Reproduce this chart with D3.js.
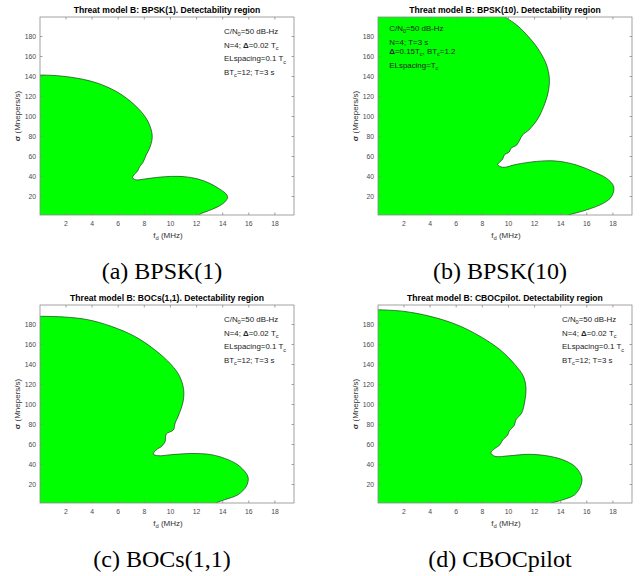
<html lang="en">
<head>
<meta charset="UTF-8">
<title>Detectability regions</title>
<style>
  body { margin: 0; background: #fff; }
  .box { fill: none; stroke: #8a8a8a; stroke-width: 0.8px; }
  .tick line { stroke: #8a8a8a; stroke-width: 0.8px; }
  .tick text { fill: #4a4a4a; font: 6.8px "Liberation Sans", Arial, sans-serif; }
  .region { fill: #00ff00; stroke: none; }
  .edge { fill: none; stroke: #1e3a1e; stroke-width: 0.7px; }
  .title { font: bold 8.6px "Liberation Sans", Arial, sans-serif; text-anchor: middle; }
  .lbl { font: 8px "Liberation Sans", Arial, sans-serif; fill: #333; }
  .note { font: 7.9px "Liberation Sans", Arial, sans-serif; fill: #222; }
  .caption { font: 24px "Liberation Serif", "Times New Roman", serif; text-anchor: middle; }
</style>
</head>
<body>
<script src="https://cdnjs.cloudflare.com/ajax/libs/d3/7.8.5/d3.min.js"></script>
<script>

var xDomain = [0.05, 19.5],
    yDomain = [1, 199];

var xTicks = [2, 4, 6, 8, 10, 12, 14, 16, 18],
    yTicks = [20, 40, 60, 80, 100, 120, 140, 160, 180];

var titles = [
  "Threat model B: BPSK(1). Detectability region",
  "Threat model B: BPSK(10). Detectability region",
  "Threat model B: BOCs(1,1). Detectability region",
  "Threat model B: CBOCpilot. Detectability region"
];

var captions = ["(a) BPSK(1)", "(b) BPSK(10)", "(c) BOCs(1,1)", "(d) CBOCpilot"];

// boundary of the detectable region, [fd (MHz), sigma (Mnepers/s)]
var bpsk1 = [[0.05,141],[1.4,140.3],[2.94,137.7],[4.48,132.7],[6.0,123.7],[7.3,111],[8.18,97.7],
  [8.57,86],[8.64,77.7],[8.44,67.7],[8.18,61],[7.93,53.5],[7.68,49.3],[7.5,44.5],[7.3,42],[7.14,38.5],
  [7.38,36.2],[8.06,37],[9.08,38.7],[10.1,39.6],[11.13,39.3],[12.15,37],[13.04,32.7],[13.8,27],
  [14.3,22],[14.42,18.7],[14.2,14],[13.68,9.3],[12.9,5],[12.4,2.5],[12.2,1]];

var bpsk10 = [[9.77,199],[10.67,191],[11.68,177.7],[12.45,164.3],[12.96,151],[13.17,137.7],[13.09,124.3],
  [12.83,112.7],[12.45,101],[12.14,94.3],[11.94,91],[11.6,86],[11.12,81],[10.9,76],[10.67,71],[10.23,67.7],
  [10.1,64],[9.72,61],[9.6,57],[9.34,53.5],[9.21,51.5],[9.6,48.7],[10.67,51.7],[12.2,54.6],[13.67,55],
  [15.25,51],[16.53,44.3],[17.55,37.7],[18.1,29.3],[17.93,19.3],[17.3,12.7],[16.0,6],[14.6,1]];

var bocs11 = [[0.05,187.7],[1.92,187],[3.71,184.3],[5.5,177.7],[7.29,167.7],[8.83,154.3],[10.1,139.3],
  [10.74,127.7],[11.05,114.3],[11.0,102],[10.64,88],[10.4,81],[10.26,74],[9.72,70],[9.62,62],[9.3,57],
  [9.03,55],[8.72,50],[9.08,48.3],[10.1,49.3],[11.63,50.5],[13.17,49.3],[14.45,44.3],[15.34,37.7],
  [15.98,27],[15.85,17.7],[15.21,9.3],[14.19,4.3],[13.5,1]];

var cbocPilot = [[0.05,194.3],[2.0,192.7],[4.04,187.7],[6.08,179.3],[7.86,167.7],[9.39,154.3],[10.54,139.3],
  [11.18,127.7],[11.38,116],[11.28,102],[11.05,91],[10.6,84],[10.5,79],[10.1,73],[9.98,69],[9.6,64],
  [9.39,59.3],[8.88,54.3],[8.7,51],[9.0,47.7],[10.15,48.3],[11.6,49.7],[13.21,47.7],[14.49,42.7],
  [15.25,36],[15.66,26],[15.56,17.7],[15.12,9.3],[14.23,4.3],[13.3,1]];

var regions = [bpsk1, bpsk10, bocs11, cbocPilot];

// annotation lines: plain strings, ["x","sub"] subscripts, ["x","b"] bold
var noteStd = [
  ["C/N", ["0", "sub"], "=50 dB-Hz"],
  ["N=4; ", ["\u0394", "b"], "=0.02 T", ["c", "sub"]],
  ["ELspacing=0.1 T", ["c", "sub"]],
  ["BT", ["c", "sub"], "=12; T=3 s"]
];
var noteB10 = [
  ["C/N", ["0", "sub"], "=50 dB-Hz"],
  ["N=4; T=3 s"],
  [["\u0394", "b"], "=0.15T", ["c", "sub"], ", BT", ["c", "sub"], "=1.2"],
  ["ELspacing=T", ["c", "sub"]]
];
var notes = [noteStd, noteB10, noteStd, noteStd];

var W = 643, H = 576;
var aw = 254, ah = 198;
var offsets = [[40, 17], [378, 17], [40, 305], [378, 305]];

var svg = d3.select("body").append("svg")
  .attr("width", W)
  .attr("height", H);

var x = d3.scaleLinear().domain(xDomain).range([0, aw]),
    y = d3.scaleLinear().domain(yDomain).range([ah, 0]);

var line = d3.line()
  .x(function(d){ return x(d[0]); })
  .y(function(d){ return y(d[1]); })
  .curve(d3.curveCatmullRom.alpha(0.5));

svg.append("defs").append("clipPath").attr("id", "clip")
  .append("rect").attr("width", aw).attr("height", ah);

var panels = svg.selectAll("g.panel")
  .data(regions)
  .enter()
  .append("g")
    .attr("class", "panel")
    .attr("transform", function(d, i){
      return "translate(" + offsets[i][0] + "," + offsets[i][1] + ")";
    });

panels.each(function(pts, i){

  var g = d3.select(this);

  // close the boundary along the axes
  var first = pts[0], last = pts[pts.length - 1];
  var close = [[last[0], yDomain[0]], [xDomain[0], yDomain[0]]];
  if (first[1] === yDomain[1]) close.push([xDomain[0], yDomain[1]]);
  else close.push([xDomain[0], first[1]]);

  var d = line(pts) + close.map(function(p){
    return "L" + x(p[0]) + "," + y(p[1]);
  }).join("") + "Z";

  var plot = g.append("g").attr("clip-path", "url(#clip)");
  plot.append("path").attr("class", "region").attr("d", d);
  plot.append("path").attr("class", "edge").attr("d", line(pts));

  // axes, ticks pointing inward on all four sides
  g.append("g").attr("transform", "translate(0," + ah + ")")
    .call(d3.axisBottom(x).tickValues(xTicks).tickSize(-2.5).tickSizeOuter(0).tickPadding(6.5));
  g.append("g")
    .call(d3.axisTop(x).tickValues(xTicks).tickSize(-2.5).tickSizeOuter(0).tickFormat(""));
  g.append("g")
    .call(d3.axisLeft(y).tickValues(yTicks).tickSize(-2.5).tickSizeOuter(0).tickPadding(4));
  g.append("g").attr("transform", "translate(" + aw + ",0)")
    .call(d3.axisRight(y).tickValues(yTicks).tickSize(-2.5).tickSizeOuter(0).tickFormat(""));
  g.selectAll(".domain").remove();
  g.selectAll(".tick text").attr("font-size", null).attr("font-family", null);

  g.append("rect").attr("class", "box").attr("width", aw).attr("height", ah);

  g.append("text").attr("class", "title")
    .attr("x", aw / 2).attr("y", -4)
    .text(titles[i]);

  // x label
  var xl = g.append("text").attr("class", "lbl")
    .attr("x", aw / 2 + 1).attr("y", ah + 23)
    .attr("text-anchor", "middle");
  xl.append("tspan").text("f");
  xl.append("tspan").attr("font-size", "5.8px").attr("dy", 2).text("d");
  xl.append("tspan").attr("dy", -2).text(" (MHz)");

  // y label
  var yl = g.append("text").attr("class", "lbl")
    .attr("transform", "translate(-20," + (ah / 2) + ") rotate(-90)")
    .attr("text-anchor", "middle");
  yl.append("tspan").attr("font-weight", "bold").text("\u03c3");
  yl.append("tspan").text(" (Mnepers/s)");

  // annotation block
  var nx = i === 1 ? 11.3 : 184,
      ny = i === 1 ? [13.8, 27.5, 37, 50.5] : [16.8, 30.5, 44.3, 57.6];
  notes[i].forEach(function(row, j){
    var t = g.append("text").attr("class", "note")
      .attr("x", nx).attr("y", ny[j]);
    var shifted = false;
    row.forEach(function(seg){
      var s = t.append("tspan");
      if (typeof seg === "string") {
        s.text(seg);
        if (shifted) { s.attr("dy", -2.2); shifted = false; }
      } else if (seg[1] === "sub") {
        s.text(seg[0]).attr("font-size", "5.6px").attr("dy", shifted ? 0 : 2.2);
        shifted = true;
      } else {
        s.text(seg[0]).attr("font-weight", "bold");
        if (shifted) { s.attr("dy", -2.2); shifted = false; }
      }
    });
  });

  g.append("text").attr("class", "caption")
    .attr("x", 122).attr("y", 262)
    .text(captions[i]);
});

</script>
</body>
</html>
